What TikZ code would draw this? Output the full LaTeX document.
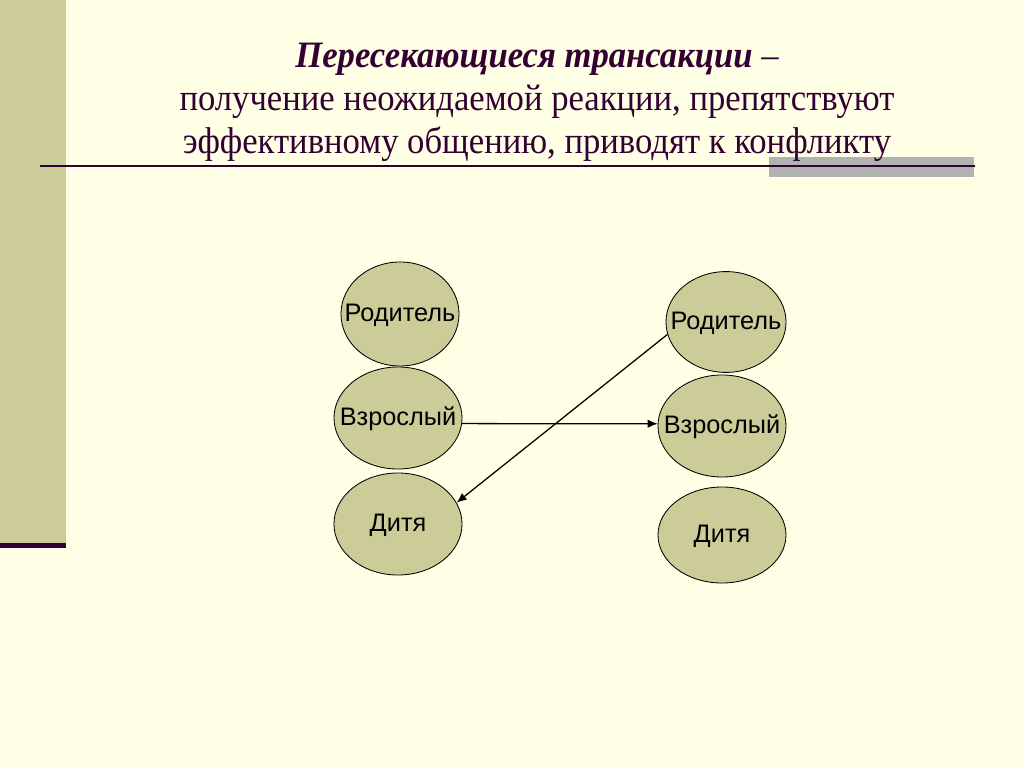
\documentclass[tikz,border=0pt]{standalone}
\usepackage{fontspec}
\setmainfont{Liberation Serif}
\newfontfamily\headfont[FakeStretch=0.93]{Liberation Serif}
\newfontfamily\statefont{Liberation Sans}
\usetikzlibrary{arrows.meta,shapes.geometric}
\definecolor{slidebg}{HTML}{FFFFE5}
\definecolor{sidebar}{HTML}{CCCC99}
\definecolor{plum}{HTML}{330033}
\definecolor{rulegray}{HTML}{B2B2B2}
\definecolor{statefill}{HTML}{CCCC99}
\newcommand{\egolabel}[1]{\makebox[0pt]{\raisebox{-1.5pt}{#1}}}

\begin{document}
\begin{tikzpicture}[
  x=0.025cm, y=-0.025cm,
  title/.style={align=center, text=plum, font=\headfont\fontsize{26.5}{30}\selectfont, inner sep=0pt},
  egostate/.style={draw=black, line width=0.6pt, ellipse, fill=statefill, inner sep=0pt, text height=0.75em, text depth=0pt, minimum width=3.2cm, minimum height=2.55cm, font=\statefont\fontsize{18}{20}\selectfont},
  arrow/.style={-{Latex[length=2.5mm,width=2.1mm]}, line width=0.9pt, color=black}
]
  % slide background and decoration
  \fill[slidebg] (0,0) rectangle (1024,767);
  \useasboundingbox (0,0) rectangle (1024,767);
  \fill[sidebar] (0,0) rectangle (66,543);
  \fill[plum] (0,543) rectangle (66,548);
  \fill[rulegray] (769,157) rectangle (974,177);
  \draw[plum, line width=1.8pt] (40,166) -- (975,166);

  \node[title] (heading) at (537,102) {\textbf{\textit{Пересекающиеся трансакции}} –\\[1pt]получение неожидаемой реакции, препятствуют\\эффективному общению, приводят к конфликту};

  % left person
  \node[egostate, minimum width=2.95cm, minimum height=2.6cm] (parentL) at (400,314) {\egolabel{Родитель}};
  \node[egostate] (adultL) at (398,418) {\egolabel{Взрослый}};
  \node[egostate] (childL) at (398,524) {\egolabel{Дитя}};

  % right person
  \node[egostate, minimum width=3.0cm, minimum height=2.52cm] (parentR) at (726,322) {\egolabel{Родитель}};
  \node[egostate] (adultR) at (722,426) {\egolabel{Взрослый}};
  \node[egostate, minimum height=2.4cm] (childR) at (722,535) {\egolabel{Дитя}};

  \draw[arrow] (adultL.-5) -- (adultR.178);
  \draw[arrow] (parentR.192) -- (childL.20);
\end{tikzpicture}
\end{document}
